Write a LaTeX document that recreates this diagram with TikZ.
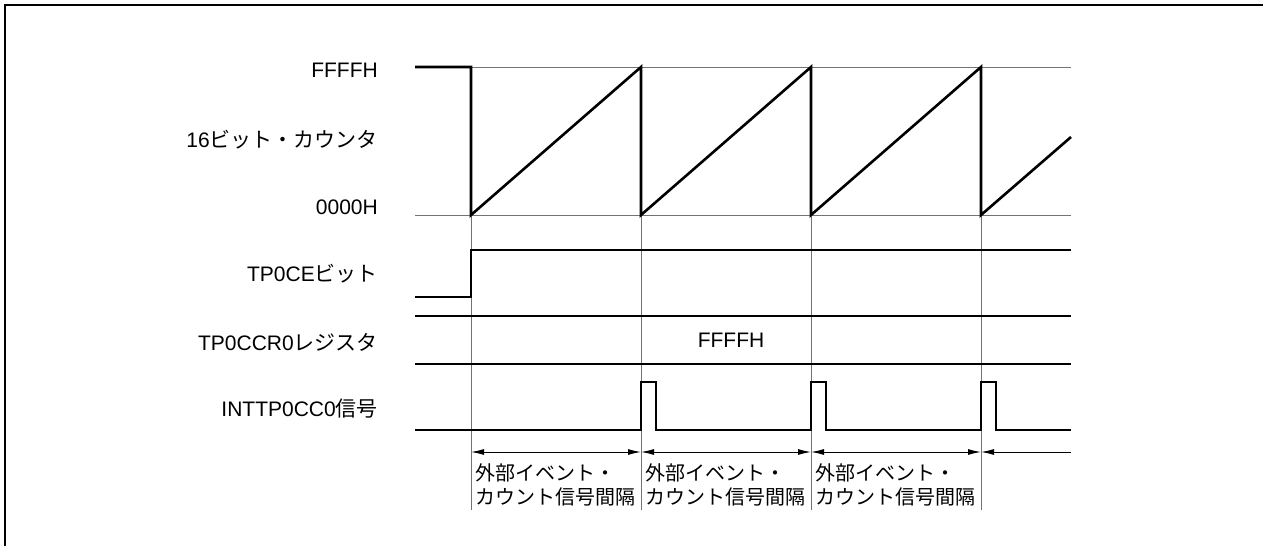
\documentclass[tikz,border=0pt]{standalone}
\usepackage{fontspec}
\setmainfont{Liberation Sans}
\newfontfamily\jp{Noto Sans CJK JP}
\usetikzlibrary{arrows.meta}

\begin{document}
\begin{tikzpicture}[x=1pt,y=-1pt,font=\fontsize{21}{24}\selectfont,
    wave/.style={line width=2.6pt},
    guide/.style={black!55,line width=1pt},
    span/.style={{Latex[length=13pt,width=6pt]}-{Latex[length=13pt,width=6pt]},line width=1pt},
    lbl/.style={anchor=east,inner sep=0pt}]
    \useasboundingbox (0,0) rectangle (1263,546);
    \draw[line width=2.2pt] (5,546) -- (5,5) -- (1263,5);
    % signal names
    \node[lbl] (ffff) at (378,70) {FFFFH};
    \node[lbl] (cnt) at (378,140) {16{\jp ビット・カウンタ}};
    \node[lbl] (zero) at (378,207) {0000H};
    \node[lbl] (ce) at (378,274) {TP0CE{\jp ビット}};
    \node[lbl] (ccr) at (378,342) {TP0CCR0{\jp レジスタ}};
    \node[lbl] (int) at (378,409) {INTTP0CC0{\jp 信号}};
    % guides
    \draw[guide] (415,67) -- (1071,67);
    \draw[guide] (415,215) -- (1071,215);
    \foreach \x in {471,641,811,981}
        \draw[guide] (\x,215) -- (\x,510);
    % 16-bit counter
    \draw[wave] (415,67) -- (471,67) -- (471,215) -- (641,67) -- (641,215) -- (811,67)
        -- (811,215) -- (981,67) -- (981,215) -- (1071,137);
    % TP0CE
    \draw[wave] (415,297) -- (471,297) -- (471,250) -- (1071,250);
    % TP0CCR0
    \draw[wave] (415,316) -- (1071,316);
    \draw[wave] (415,364) -- (1071,364);
    \node (reg) at (731,340) {FFFFH};
    % INTTP0CC0
    \draw[wave] (415,430) -- (641,430) -- (641,382) -- (656,382) -- (656,430) -- (811,430)
        -- (811,382) -- (826,382) -- (826,430) -- (981,430) -- (981,382) -- (996,382)
        -- (996,430) -- (1071,430);
    % intervals
    \foreach \a/\b in {471/641,641/811,811/981} {
        \draw[span] (\a,452) -- (\b,452);
        \node[anchor=north west,inner sep=0pt,align=left,font=\fontsize{20}{24}\selectfont]
            (iv\a) at (\a+4,463) {\jp 外部イベント・\\\jp カウント信号間隔};
    }
    \draw[{Latex[length=13pt,width=6pt]}-,line width=1pt] (981,452) -- (1071,452);
\end{tikzpicture}
\end{document}
